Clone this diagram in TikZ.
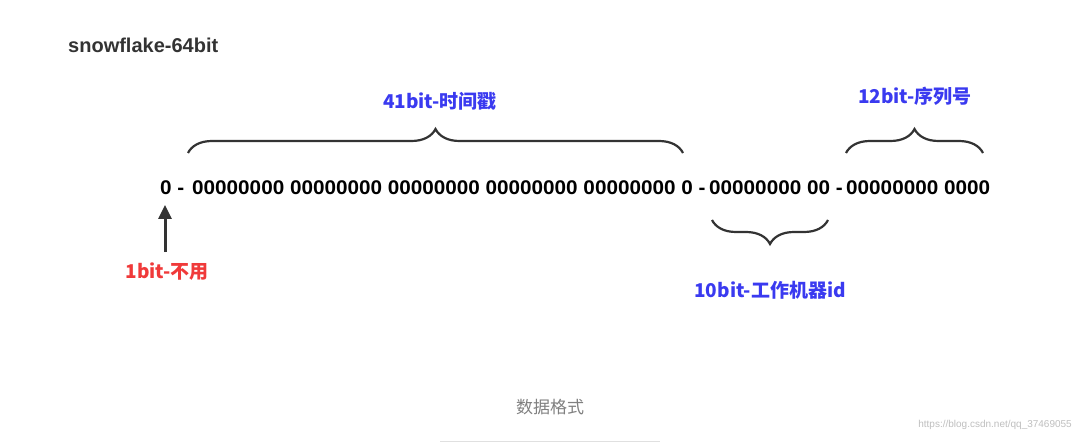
\documentclass[tikz,border=0pt]{standalone}
\usepackage{fontspec}
\setmainfont{Liberation Sans}
\newfontfamily\cjk{Noto Sans CJK SC}
\usetikzlibrary{decorations.pathreplacing,arrows.meta}
\definecolor{dk}{HTML}{333333}
\definecolor{bl}{HTML}{3A3AF0}
\definecolor{rd}{HTML}{F03A3A}
\newcommand{\widebits}[1]{\scalebox{1.15}[1.1]{#1}}
\tikzset{
  bits/.style={anchor=west,inner sep=0,font=\fontsize{18}{18}\bfseries,text=black},
  br/.style={decorate,decoration={brace,amplitude=24pt,aspect=0.5},draw=dk,line width=2.2pt},
  lab/.style={inner sep=0,font=\fontsize{19}{19}\bfseries\cjk}
}
\begin{document}
\begin{tikzpicture}[x=1pt,y=-1pt]
\useasboundingbox[fill=white] (0,0) rectangle (1091,446);
\node[anchor=west,inner sep=0,font=\fontsize{20}{20}\bfseries,text=dk] (title) at (68,45) {snowflake-64bit};
\node[bits] (b0) at (160,188) {\widebits{0 -}};
\node[bits] (b1) at (192,188) {\widebits{00000000 00000000 00000000 00000000 00000000 0 -}};
\node[bits] (b2) at (709,188) {\widebits{00000000 00 -}};
\node[bits] (b3) at (846,188) {\widebits{00000000 0000}};
\coordinate (t1) at (188,153); \coordinate (t2) at (683,153);
\draw[br] (t1) -- (t2);
\coordinate (s1) at (846,153); \coordinate (s2) at (983,153);
\draw[br] (s1) -- (s2);
\coordinate (m1) at (712,220); \coordinate (m2) at (828,220);
\draw[br,decoration={mirror}] (m1) -- (m2);
\node[lab,text=bl] (l41) at (440,101) {41bit-时间戳};
\node[lab,text=bl] (l12) at (915,96) {12bit-序列号};
\node[lab,text=bl] (l10) at (770,290) {10bit-工作机器id};
\node[lab,text=rd] (l1) at (167,272) {1bit-不用};
\coordinate (a0) at (165,252);
\draw[-{Triangle[length=14pt,width=13pt]},draw=dk,fill=dk,line width=3pt] (a0) -- (165,205);
\node[inner sep=0,font=\fontsize{17}{17}\cjk,text=gray] (cap) at (550,407) {数据格式};
\coordinate (u1) at (440,441); \coordinate (u2) at (660,441);
\draw[black!12,line width=1pt] (u1) -- (u2);
\node[anchor=east,inner sep=0,font=\fontsize{13}{13},text=black!25] (wm) at (1072,425) {https://blog.csdn.net/qq\_37469055};
\end{tikzpicture}
\end{document}
